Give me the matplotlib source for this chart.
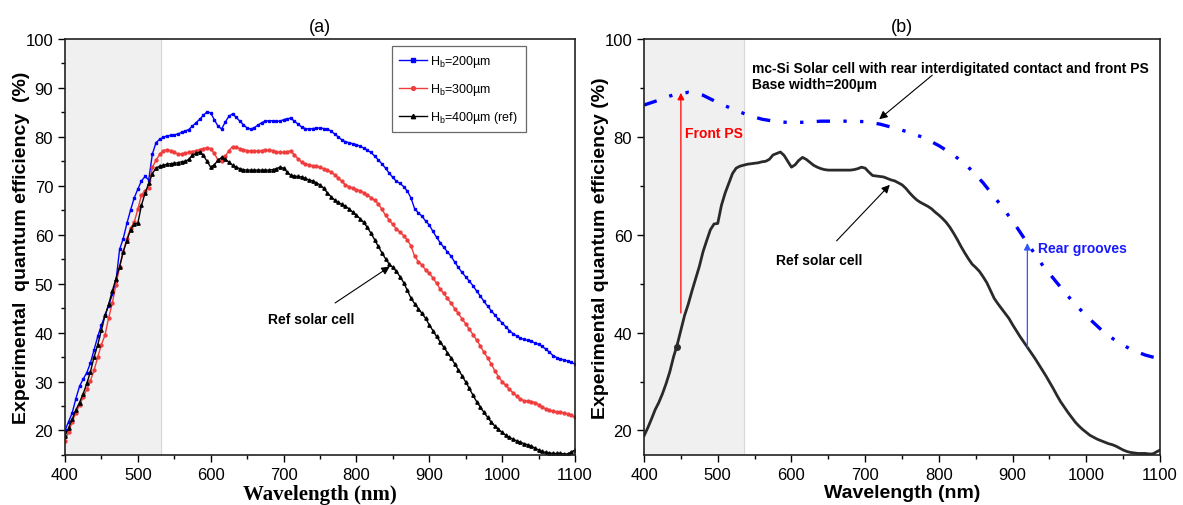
import numpy as np
import matplotlib
matplotlib.use("Agg")
import matplotlib.pyplot as plt
from matplotlib.ticker import MultipleLocator

plt.rcParams['font.family'] = ['Liberation Sans', 'DejaVu Sans']
plt.rcParams['mathtext.fontset'] = 'custom'
plt.rcParams['mathtext.rm'] = 'Liberation Sans'
plt.rcParams['mathtext.it'] = 'Liberation Sans:italic'

# wavelength grid (nm), 5 nm steps
wavelength = list(range(400, 1101, 5))

# H_b = 200 um
qe_200 = [20.0, 21.8, 23.6, 26.5, 29.0, 30.5, 31.8, 33.8, 36.5, 39.2,
          41.5, 43.5, 45.5, 47.8, 50.5, 57.0, 59.2, 62.3, 65.0, 67.5,
          69.3, 71.0, 71.9, 71.2, 76.5, 78.8, 79.5, 79.9, 80.2, 80.3,
          80.4, 80.6, 80.9, 81.2, 81.5, 82.2, 82.9, 83.6, 84.4, 85.1,
          84.9, 83.5, 82.2, 81.6, 83.0, 84.2, 84.7, 84.0, 83.2, 82.5,
          81.8, 81.6, 81.9, 82.4, 82.9, 83.2, 83.3, 83.3, 83.2, 83.2,
          83.5, 83.7, 83.8, 83.2, 82.6, 82.0, 81.7, 81.6, 81.7, 81.8,
          81.8, 81.7, 81.6, 81.2, 80.6, 80.0, 79.4, 79.0, 78.8, 78.6,
          78.4, 78.1, 77.7, 77.3, 76.8, 76.1, 75.3, 74.5, 73.6, 72.6,
          71.7, 70.9, 70.5, 69.8, 68.9, 67.5, 65.3, 64.5, 63.8, 62.8,
          62.0, 60.7, 59.5, 58.4, 57.4, 56.5, 55.6, 54.4, 53.3, 52.3,
          51.4, 50.5, 49.6, 48.5, 47.5, 46.4, 45.4, 44.5, 43.6, 42.7,
          42.0, 41.2, 40.4, 39.8, 39.3, 38.9, 38.6, 38.4, 38.2, 37.9,
          37.6, 37.2, 36.6, 36.0, 35.3, 34.9, 34.6, 34.4, 34.2, 33.9,
          33.6]

# H_b = 300 um
qe_300 = [17.9, 19.7, 21.8, 23.6, 25.2, 26.8, 28.4, 30.2, 32.3, 35.0,
          37.5, 39.5, 43.0, 46.0, 49.8, 53.3, 56.5, 59.2, 61.3, 62.5,
          65.2, 68.1, 69.0, 69.6, 73.8, 75.2, 76.4, 77.2, 77.4, 77.2,
          76.8, 76.5, 76.5, 76.7, 76.8, 77.0, 77.2, 77.4, 77.6, 77.8,
          77.6, 76.6, 75.3, 75.0, 76.0, 77.2, 78.0, 77.9, 77.6, 77.4,
          77.2, 77.1, 77.1, 77.1, 77.2, 77.3, 77.3, 77.2, 77.0, 76.8,
          76.8, 77.0, 77.1, 76.3, 75.5, 74.8, 74.5, 74.3, 74.1, 74.0,
          73.8, 73.5, 73.2, 72.8, 72.3, 71.6, 70.9, 70.2, 69.8, 69.5,
          69.2, 69.0, 68.6, 68.1, 67.6, 67.0, 66.3, 65.2, 64.0, 63.0,
          62.1, 61.2, 60.5, 59.8, 58.9, 57.7, 55.6, 54.5, 53.8, 52.8,
          52.1, 51.2, 50.1, 48.9, 48.0, 47.0, 46.0, 44.9, 43.9, 42.8,
          41.8, 40.7, 39.6, 38.5, 37.3, 36.0, 34.9, 33.6, 32.2, 31.0,
          30.0, 29.2, 28.4, 27.7, 27.0, 26.4, 26.1, 26.0, 25.9, 25.7,
          25.3, 24.8, 24.4, 24.1, 23.9, 23.8, 23.7, 23.6, 23.4, 23.1,
          22.7]

# H_b = 400 um (reference cell)
qe_400 = [18.9, 20.5, 22.3, 24.2, 25.7, 27.5, 29.6, 32.0, 35.0, 37.5,
          40.5, 43.5, 45.8, 48.5, 51.0, 53.5, 56.5, 58.8, 61.0, 62.2,
          62.3, 66.0, 68.5, 70.5, 72.5, 73.6, 74.0, 74.2, 74.4, 74.5,
          74.6, 74.7, 74.9, 75.0, 75.4, 76.3, 76.6, 76.9, 76.2, 75.0,
          73.8, 74.3, 75.2, 75.8, 75.4, 74.8, 74.2, 73.8, 73.5, 73.3,
          73.2, 73.2, 73.2, 73.2, 73.2, 73.2, 73.2, 73.3, 73.5, 73.8,
          73.6, 72.8, 72.1, 72.0, 71.9, 71.8, 71.5, 71.2, 71.0, 70.6,
          70.2, 69.5, 68.6, 67.8, 67.1, 66.6, 66.2, 65.8, 65.3, 64.6,
          64.0, 63.3, 62.5, 61.5, 60.3, 59.0, 57.6, 56.3, 55.1, 54.0,
          53.3, 52.5, 51.4, 50.2, 48.6, 47.0, 45.9, 44.9, 43.9, 42.9,
          41.6, 40.4, 39.2, 38.1, 37.0, 35.9, 34.8, 33.6, 32.4, 31.2,
          29.9, 28.6, 27.2, 25.9, 24.8, 23.7, 22.7, 21.7, 20.9, 20.2,
          19.6, 19.0, 18.6, 18.2, 17.9, 17.6, 17.3, 17.1, 16.8, 16.4,
          16.0, 15.7, 15.5, 15.4, 15.3, 15.3, 15.3, 15.2, 15.2, 15.6,
          16.0]

# simulated mc-Si cell, rear interdigitated contact + front PS (panel b)
wl_sim = list(range(400, 1101, 20))
qe_sim = [86.5, 87.5, 88.6, 89.1, 88.5, 87.0, 85.7, 84.5, 83.6, 83.1,
          82.9, 83.0, 83.2, 83.2, 83.2, 83.1, 82.6, 81.8, 80.9, 79.8,
          78.2, 76.3, 73.8, 70.6, 66.8, 62.8, 58.3, 53.9, 50.2, 46.6,
          43.4, 40.6, 38.3, 36.6, 35.4, 34.6]

labels_a = [r'H$_\mathregular{b}$=200µm', r'H$_\mathregular{b}$=300µm',
            r'H$_\mathregular{b}$=400µm (ref)']

fig = plt.figure(figsize=(11.83, 5.06), dpi=100)
ax1 = fig.add_axes([0.0549, 0.099, 0.4311, 0.822])
ax2 = fig.add_axes([0.5444, 0.099, 0.4362, 0.822])

# ---- panel (a)
ax1.axvspan(400, 532, color='#f0f0f0', zorder=0)
ax1.axvline(532, color='#d4d4ee', lw=0.8, zorder=0)
ax1.plot(wavelength, qe_200, color='#0000ff', lw=1, marker='s', ms=2.1,
         label=labels_a[0])
ax1.plot(wavelength, qe_300, color='#f03c3c', lw=1, marker='o', ms=2.1,
         label=labels_a[1])
ax1.plot(wavelength, qe_400, color='black', lw=1, marker='^', ms=2.4,
         label=labels_a[2])
ax1.set_xlim(400, 1100)
ax1.set_ylim(15, 100)
ax1.xaxis.set_major_locator(MultipleLocator(100))
ax1.xaxis.set_minor_locator(MultipleLocator(50))
ax1.yaxis.set_major_locator(MultipleLocator(10))
ax1.yaxis.set_minor_locator(MultipleLocator(5))
ax1.set_xlabel('Wavelength (nm)', family=['Liberation Serif'], fontsize=15,
               fontweight='bold', labelpad=2)
ax1.set_ylabel('Experimental  quantum efficiency  (%)', fontsize=14,
               fontweight='bold', labelpad=-3)
ax1.set_title('(a)', fontsize=13, pad=6)
leg = ax1.legend(loc='upper right', bbox_to_anchor=(0.908, 0.99), fontsize=9,
                 frameon=True, fancybox=False, edgecolor='#444444',
                 handlelength=2.2, handletextpad=0.3, labelspacing=0.95,
                 borderpad=0.6, borderaxespad=0.2, markerscale=1.3)
leg.get_frame().set_linewidth(0.9)
ax1.annotate('Ref solar cell', xy=(849, 53.8), xytext=(738, 42.8),
             ha='center', va='center', fontsize=10, fontweight='bold',
             arrowprops=dict(arrowstyle='-|>', color='black', lw=0.8,
                             mutation_scale=12, shrinkA=8))

# ---- panel (b)
ax2.axvspan(400, 535, color='#f0f0f0', zorder=0)
ax2.axvline(535, color='#d8d8d8', lw=0.8, zorder=0)
ax2.plot(wl_sim, qe_sim, color='#0000ff', lw=2.4,
         linestyle=(0, (4, 4, 1, 4, 1, 4)))
ax2.plot(wavelength, qe_400, color='#2a2a2a', lw=2)
ax2.plot([wavelength[9]], [qe_400[9] - 0.5], 'o', color='#2a2a2a', ms=4)
ax2.set_xlim(400, 1100)
ax2.set_ylim(15, 100)
ax2.xaxis.set_major_locator(MultipleLocator(100))
ax2.xaxis.set_minor_locator(MultipleLocator(50))
ax2.yaxis.set_major_locator(MultipleLocator(20))
ax2.yaxis.set_minor_locator(MultipleLocator(10))
ax2.set_xlabel('Wavelength (nm)', fontsize=14, fontweight='bold', labelpad=2)
ax2.set_ylabel('Experimental quantum efficiency (%)', fontsize=14,
               fontweight='bold', labelpad=-3)
ax2.set_title('(b)', fontsize=13, pad=6)

ax2.annotate('', xy=(450, 89.0), xytext=(450, 44.0),
             arrowprops=dict(arrowstyle='-|>', color='#ff0000', lw=0.9,
                             mutation_scale=10, shrinkA=0, shrinkB=0))
ax2.text(455, 80.8, 'Front PS', color='#ff0000', fontsize=10,
         fontweight='bold', ha='left', va='center')
ax2.annotate('', xy=(920, 58.3), xytext=(920, 37.0),
             arrowprops=dict(arrowstyle='-|>', color='#3355ff', lw=0.9,
                             mutation_scale=10, shrinkA=0, shrinkB=0))
ax2.text(934, 57.3, 'Rear grooves', color='#1a1aff', fontsize=10,
         fontweight='bold', ha='left', va='center')
ax2.annotate('Ref solar cell', xy=(736, 70.6), xytext=(637, 54.9),
             ha='center', va='center', fontsize=10, fontweight='bold',
             arrowprops=dict(arrowstyle='-|>', color='black', lw=0.8,
                             mutation_scale=12, shrinkA=9))
ax2.text(546, 95.6, 'mc-Si Solar cell with rear interdigitated contact and front PS\nBase width=200µm',
         fontsize=10, fontweight='bold', ha='left', va='top', linespacing=1.25)
ax2.annotate('', xy=(719, 83.6), xytext=(791, 92.6),
             arrowprops=dict(arrowstyle='-|>', color='black', lw=0.8,
                             mutation_scale=12, shrinkA=0, shrinkB=0))

for ax in (ax1, ax2):
    ax.tick_params(which='both', direction='out', labelsize=12)
    ax.tick_params(which='major', length=5, width=1)
    ax.tick_params(which='minor', length=3, width=1)
    for sp in ax.spines.values():
        sp.set_linewidth(1.2)
        sp.set_color('#222222')

fig.savefig('out.png', dpi=100)
